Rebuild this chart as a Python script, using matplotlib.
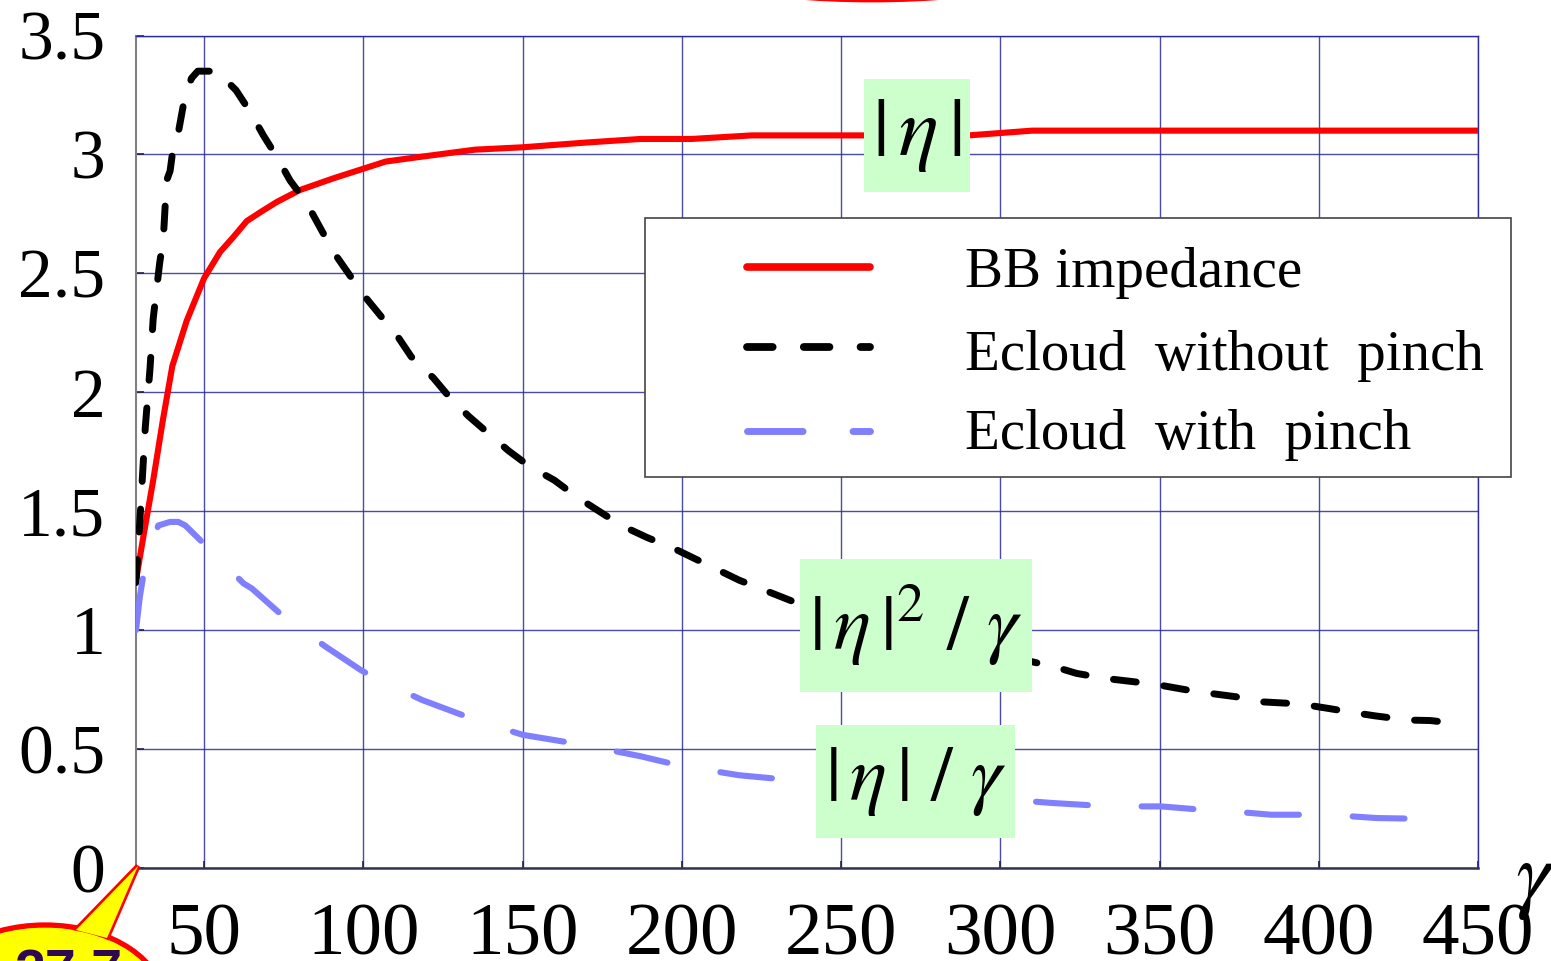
import matplotlib
matplotlib.use("Agg")
import matplotlib.pyplot as plt
from matplotlib.patches import Rectangle, Ellipse, Polygon
from matplotlib.lines import Line2D

plt.rcParams['font.family'] = ['Liberation Serif', 'DejaVu Serif']
plt.rcParams['mathtext.fontset'] = 'stix'

# ---------------- data ----------------
gamma_bb = [28.6, 31, 34, 37, 40, 44.5, 50, 55, 59, 63.4, 68, 72.8, 80, 90.7, 100, 107,
            118, 135, 150, 170, 187, 203, 222, 250, 290, 310, 350, 400, 450]
eta_bb = [1.21, 1.40, 1.63, 1.88, 2.11, 2.30, 2.48, 2.59, 2.65, 2.72, 2.76, 2.80, 2.85, 2.90,
          2.94, 2.97, 2.99, 3.02, 3.03, 3.05, 3.065, 3.065, 3.08, 3.08, 3.08, 3.10, 3.10,
          3.10, 3.10]

gamma_nopinch = [28.6, 30, 31.5, 33, 34, 36, 37.2, 38.2, 39.3, 40, 42, 43.5, 46, 48, 54, 60,
                 64.4, 68.6, 72.8, 77, 82, 90.6, 100, 111, 115, 122, 127, 133, 145.5, 152,
                 160, 167, 174, 181, 189, 198, 218, 235, 260, 285, 310, 317, 324, 333, 342,
                 350, 358, 366, 374, 380, 394, 403, 411, 418, 428, 435, 445]
eta2_nopinch = [1.20, 1.50, 1.85, 2.10, 2.31, 2.54, 2.65, 2.89, 2.93, 3.00, 3.10, 3.21, 3.32,
                3.35, 3.35, 3.27, 3.18, 3.08, 2.99, 2.89, 2.80, 2.59, 2.41, 2.23, 2.15, 2.06,
                1.98, 1.90, 1.755, 1.69, 1.63, 1.56, 1.50, 1.44, 1.39, 1.34, 1.21, 1.12, 1.03,
                0.95, 0.867, 0.846, 0.818, 0.797, 0.783, 0.769, 0.750, 0.734, 0.72, 0.70, 0.69,
                0.671, 0.653, 0.639, 0.622, 0.62, 0.605]

gamma_pinch = [28.6, 29.8, 30.9, 33, 35.6, 39.3, 41.9, 44.1, 50.4, 62.4, 65, 75, 88.2, 99.2,
               103.9, 118.5, 135.3, 150, 168, 187, 199.5, 218, 234, 260, 290, 316.7, 334.5,
               350.5, 366, 369, 385, 402.6, 418.3, 436]
eta_pinch = [1.00, 1.14, 1.23, 1.35, 1.44, 1.455, 1.455, 1.44, 1.357, 1.196, 1.175, 1.056,
             0.93, 0.832, 0.797, 0.706, 0.622, 0.56, 0.52, 0.47, 0.43, 0.39, 0.37, 0.33, 0.30,
             0.273, 0.259, 0.259, 0.242, 0.242, 0.224, 0.224, 0.21, 0.206]

x_ticks = [50, 100, 150, 200, 250, 300, 350, 400, 450]
y_ticks = [0, 0.5, 1, 1.5, 2, 2.5, 3, 3.5]
y_tick_labels = ['0', '0.5', '1', '1.5', '2', '2.5', '3', '3.5']
legend_labels = ['BB impedance', 'Ecloud  without  pinch', 'Ecloud  with  pinch']
box_labels = [r'$|\,\eta\,|$', r'$|\,\eta\,|^{2}\ /\ \gamma$', r'$|\,\eta\,|\ /\ \gamma$']
callout_text = '27.7'

# ---------------- figure ----------------
W, H = 1551, 961
fig = plt.figure(figsize=(W / 100, H / 100), dpi=100)


def fx(x):
    return x / W


def fy(y):
    return 1 - y / H


ax = fig.add_axes([fx(136), fy(868), fx(1478) - fx(136), fy(35.5) - fy(868)])
ax.set_xlim(28.6, 450)
ax.set_ylim(0, 3.5)

red = '#FF0000'
blue = '#8080FF'
lw_red = 4.4
lw_blk = 5.0
lw_blu = 4.4
ls_blk = (0, (3.3, 4.0))
ls_blu = (0, (8.5, 8.8))

ax.plot(gamma_bb, eta_bb, color=red, lw=lw_red, zorder=3, solid_capstyle='butt')
ax.plot(gamma_nopinch, eta2_nopinch, color='black', lw=lw_blk, ls=ls_blk,
        dash_capstyle='round', zorder=3)
ax.plot(gamma_pinch, eta_pinch, color=blue, lw=lw_blu, ls=ls_blu,
        dash_capstyle='round', zorder=3)

# grid & axes
grid_c = '#2B2B9C'
ax.set_xticks(x_ticks)
ax.set_yticks(y_ticks)
ax.set_yticklabels(y_tick_labels)
ax.grid(True, color=grid_c, lw=1.0, alpha=0.85, zorder=1)
ax.set_axisbelow(True)
ax.tick_params(axis='x', direction='in', length=5, width=1.2, color='#222244',
               labelsize=54, pad=25)
ax.tick_params(axis='y', direction='in', length=6, width=1.2, color='#222244',
               labelsize=50, pad=22)
ax.spines['left'].set_color('#808080')
ax.spines['left'].set_linewidth(1.5)
ax.spines['bottom'].set_color('#333355')
ax.spines['bottom'].set_linewidth(1.8)
for s in ('top', 'right'):
    ax.spines[s].set_color(grid_c)
    ax.spines[s].set_linewidth(1.0)

# green label boxes (pixel boxes of the reference)
boxes = [(864, 79, 970, 192), (800, 559, 1032, 692), (816, 725, 1015, 838)]
box_sizes = [60, 56, 56]
for (x0, y0, x1, y1), lab, fs in zip(boxes, box_labels, box_sizes):
    r = Rectangle((fx(x0), fy(y1)), fx(x1) - fx(x0), fy(y0) - fy(y1),
                  transform=fig.transFigure, facecolor='#CCFFCC', edgecolor='none',
                  zorder=6)
    fig.add_artist(r)
    fig.text((fx(x0) + fx(x1)) / 2, (fy(y0) + fy(y1)) / 2, lab, fontsize=fs,
             ha='center', va='center', zorder=7)

# legend (drawn manually)
frame = Rectangle((fx(645), fy(477)), fx(1511) - fx(645), fy(218) - fy(477),
                  transform=fig.transFigure, facecolor='white', edgecolor='#444444',
                  lw=1.2, zorder=8)
fig.add_artist(frame)
rows_line = [267, 347, 431]
rows_base = [287, 370, 449]
styles = [dict(color=red, lw=5.5, solid_capstyle='round'),
          dict(color='black', lw=lw_blk + 0.6, ls=ls_blk, dash_capstyle='round'),
          dict(color=blue, lw=lw_blu + 0.6, ls=(0, (8.0, 7.2)), dash_capstyle='round')]
for yl, yb, st, lab in zip(rows_line, rows_base, styles, legend_labels):
    ln = Line2D([fx(747), fx(870)], [fy(yl), fy(yl)], transform=fig.transFigure,
                zorder=9, **st)
    fig.add_artist(ln)
    fig.text(fx(965), fy(yb), lab, fontsize=41, ha='left', va='baseline', zorder=9)

# x-axis label gamma (partly cut at right edge)
fig.text(fx(1515), fy(902), r'$\gamma$', fontsize=64, ha='left', va='baseline')

# yellow callout at bottom-left
ell = Ellipse((fx(45), fy(1005)), fx(240), 160 / H, transform=fig.transFigure,
              facecolor='#FFFF00', edgecolor=red, lw=3.8, zorder=10)
fig.add_artist(ell)
tri_pts = [(fx(138), fy(866)), (fx(76), fy(930)), (fx(107), fy(938))]
tri = Polygon(tri_pts, closed=True, transform=fig.transFigure, facecolor='#FFFF00',
              edgecolor=red, lw=3.8, joinstyle='miter', zorder=10)
fig.add_artist(tri)
ell2 = Ellipse((fx(45), fy(1005)), fx(240) - 6 / W, (160 - 6) / H,
               transform=fig.transFigure, facecolor='#FFFF00', edgecolor='none',
               zorder=11)
fig.add_artist(ell2)
tri2 = Polygon(tri_pts, closed=True, transform=fig.transFigure, facecolor='#FFFF00',
               edgecolor='none', zorder=11)
fig.add_artist(tri2)
fig.text(fx(14), fy(988), callout_text, fontsize=40, fontweight='bold',
         family=['Liberation Sans', 'DejaVu Sans'], color='#2E0854',
         ha='left', va='baseline', zorder=12)

# red arc at top (bottom of a cut-off outline)
arc = Ellipse((fx(872), fy(-49)), fx(440), 100 / H, transform=fig.transFigure,
              facecolor='none', edgecolor=red, lw=2.0, zorder=12)
fig.add_artist(arc)

fig.savefig('out.png', dpi=100)
